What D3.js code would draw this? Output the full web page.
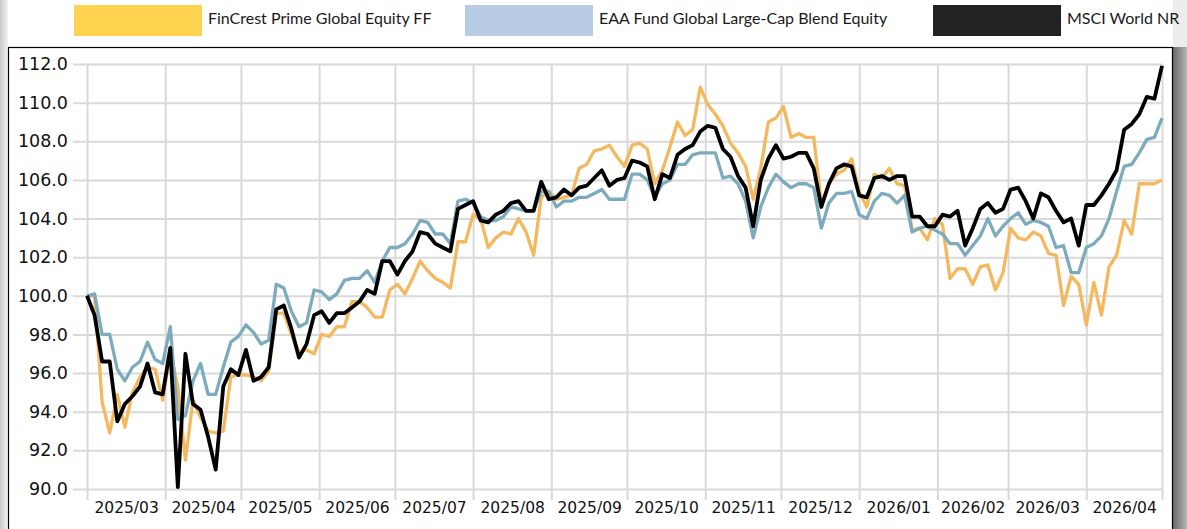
<!DOCTYPE html>
<html>
<head>
<meta charset="utf-8">
<script src="https://cdn.jsdelivr.net/npm/d3@7"></script>
<style>
  html, body { margin: 0; padding: 0; background: #fff; }
  svg { display: block; }
</style>
</head>
<body>
<svg id="chart" width="1187" height="529"></svg>
<script>
// series names and colours (legend swatches are paler than the lines)
const seriesNames = ["FinCrest Prime Global Equity FF", "EAA Fund Global Large-Cap Blend Equity", "MSCI World NR"];
const lineColors = ["#f4b85e", "#7dabbe", "#000000"];
const swatchColors = ["#fed350", "#b8cce4", "#222222"];

// one point every 3 days starting 2025-03-01
const startDate = "2025-03-01";
const stepDays = 3;

const fincrest = [
  100.0, 100.0, 94.5, 92.9, 94.9, 93.2, 95.0, 95.8, 96.3, 96.2,
  94.6, 97.1, 95.3, 91.5, 94.6, 93.7, 93.0, 92.9, 93.0, 95.8,
  95.9, 95.9, 95.8, 95.6, 96.1, 99.1, 99.1, 98.0, 97.1, 97.2,
  97.0, 98.0, 97.9, 98.4, 98.4, 99.7, 99.7, 99.4, 98.9, 98.9,
  100.3, 100.6, 100.1, 100.9, 101.8, 101.3, 100.9, 100.7, 100.4, 102.8,
  102.8, 104.2, 104.0, 102.5, 103.0, 103.3, 103.2, 104.0, 103.3, 102.1,
  105.1, 105.4, 105.0, 105.1, 105.2, 106.6, 106.8, 107.5, 107.6, 107.8,
  107.2, 106.7, 107.8, 107.9, 107.6, 105.8, 106.5, 107.7, 109.0, 108.3,
  108.6, 110.8, 109.9, 109.4, 108.8, 107.9, 107.4, 106.7, 105.0, 106.6,
  109.0, 109.2, 109.8, 108.2, 108.4, 108.2, 108.2, 104.8, 105.8, 106.3,
  106.5, 107.1, 105.4, 104.6, 106.3, 106.1, 106.6, 105.8, 105.7, 103.4,
  103.5, 102.9, 104.0, 103.7, 100.9, 101.4, 101.4, 100.6, 101.5, 101.6,
  100.3, 101.2, 103.5, 103.0, 102.9, 103.3, 103.1, 102.2, 102.1, 99.5,
  101.0, 100.6, 98.5, 100.7, 99.0, 101.5, 102.1, 103.9, 103.2, 105.8,
  105.8, 105.8, 106.0
];

const eaaGlobal = [
  100.0, 100.1, 98.0, 98.0, 96.2, 95.6, 96.3, 96.6, 97.6, 96.7,
  96.5, 98.4, 93.6, 93.8, 95.6, 96.5, 94.9, 94.9, 96.3, 97.6,
  97.9, 98.5, 98.1, 97.5, 97.7, 100.6, 100.4, 99.2, 98.4, 98.6,
  100.3, 100.2, 99.8, 100.1, 100.8, 100.9, 100.9, 101.3, 100.7, 101.8,
  102.5, 102.5, 102.7, 103.2, 103.9, 103.8, 103.2, 103.2, 102.7, 104.9,
  105.0, 104.8, 104.1, 103.9, 103.9, 104.1, 104.6, 104.5, 104.4, 104.4,
  105.4, 105.4, 104.6, 104.9, 104.9, 105.1, 105.1, 105.3, 105.5, 105.0,
  105.0, 105.0, 106.3, 106.3, 106.0, 105.1, 105.8, 106.0, 106.8, 106.8,
  107.3, 107.4, 107.4, 107.4, 106.1, 106.2, 105.8, 104.9, 103.0, 104.6,
  105.6, 106.3, 105.9, 105.6, 105.8, 105.8, 105.6, 103.5, 104.8, 105.3,
  105.3, 105.4, 104.2, 104.0, 104.9, 105.3, 105.2, 104.8, 105.2, 103.3,
  103.5, 103.6, 103.4, 103.2, 102.7, 102.7, 102.1, 102.6, 103.1, 104.0,
  103.1, 103.6, 104.0, 104.3, 103.7, 103.9, 103.8, 103.6, 102.5, 102.6,
  101.2, 101.2, 102.5, 102.7, 103.1, 104.0, 105.4, 106.7, 106.8, 107.4,
  108.1, 108.2, 109.2
];

const msciWorld = [
  100.0, 99.0, 96.6, 96.6, 93.5, 94.4, 94.8, 95.3, 96.5, 95.0,
  94.9, 97.3, 90.1, 97.0, 94.4, 94.1, 92.7, 91.0, 95.3, 96.2,
  95.9, 97.2, 95.6, 95.8, 96.3, 99.3, 99.5, 98.3, 96.8, 97.5,
  99.0, 99.2, 98.6, 99.1, 99.1, 99.4, 99.7, 100.3, 100.1, 101.8,
  101.8, 101.1, 101.8, 102.3, 103.3, 103.2, 102.7, 102.5, 102.3, 104.5,
  104.7, 104.9, 103.9, 103.8, 104.2, 104.4, 104.8, 104.9, 104.4, 104.4,
  105.9, 105.0, 105.1, 105.5, 105.2, 105.6, 105.7, 106.1, 106.5, 105.7,
  106.0, 106.1, 107.0, 106.9, 106.7, 105.0, 106.3, 106.1, 107.3, 107.6,
  107.8, 108.5, 108.8, 108.7, 107.6, 107.2, 106.2, 105.6, 103.6, 106.0,
  107.1, 107.8, 107.1, 107.2, 107.4, 107.4, 106.6, 104.6, 105.8, 106.6,
  106.8, 106.7, 105.2, 105.1, 106.1, 106.2, 106.0, 106.2, 106.2, 104.1,
  104.1, 103.6, 103.6, 104.2, 104.1, 104.4, 102.6, 103.5, 104.5, 104.8,
  104.3, 104.5, 105.5, 105.6, 104.9, 104.0, 105.3, 105.1, 104.4, 103.8,
  104.0, 102.6, 104.7, 104.7, 105.2, 105.8, 106.5, 108.6, 108.9, 109.4,
  110.3, 110.2, 111.9
];

const yTicks = [90, 92, 94, 96, 98, 100, 102, 104, 106, 108, 110, 112];
const axisStart = "2025-03-01";
const axisEnd = "2026-05-01";

const allSeries = [fincrest, eaaGlobal, msciWorld];

const svg = d3.select("#chart");
const W = 1187, H = 529;
const plot = { left: 73, dataLeft: 87, right: 1162, top: 64, bottom: 489, gridBottom: 500 };

const parse = d3.utcParse("%Y-%m-%d");
const t0 = parse(startDate);
const dates = fincrest.map((_, i) => d3.utcDay.offset(t0, i * stepDays));

const x = d3.scaleUtc()
  .domain([parse(axisStart), parse(axisEnd)])
  .range([plot.dataLeft, plot.right]);
const y = d3.scaleLinear()
  .domain([90, 112])
  .range([plot.bottom, plot.top]);

// ---- frame / page decoration
const defs = svg.append("defs");
const lg = defs.append("linearGradient").attr("id", "leftShade");
lg.append("stop").attr("offset", "0%").attr("stop-color", "#c9c9c9");
lg.append("stop").attr("offset", "100%").attr("stop-color", "#f3f3f3");
const rg = defs.append("linearGradient").attr("id", "rightShade");
rg.append("stop").attr("offset", "0%").attr("stop-color", "#6a6a6a");
rg.append("stop").attr("offset", "100%").attr("stop-color", "#b4b4b4");

svg.append("rect").attr("x", 0).attr("y", 0).attr("width", W).attr("height", H).attr("fill", "#ffffff");
svg.append("rect").attr("x", 0).attr("y", 0).attr("width", 8).attr("height", H).attr("fill", "url(#leftShade)");
svg.append("rect").attr("x", 1173).attr("y", 47).attr("width", 14).attr("height", H - 47).attr("fill", "url(#rightShade)");
svg.append("rect").attr("x", 1173).attr("y", 0).attr("width", 14).attr("height", 47).attr("fill", "#ededed");
svg.append("rect")
  .attr("x", 8.5).attr("y", 47.5)
  .attr("width", 1164).attr("height", 500)
  .attr("fill", "#ffffff")
  .attr("stroke", "#000")
  .attr("stroke-width", 1.2);

// ---- legend (swatch, then label)
const legendX = [74, 465, 933];
const legend = svg.append("g").attr("class", "legend");
seriesNames.forEach((name, i) => {
  legend.append("rect")
    .attr("x", legendX[i]).attr("y", 5)
    .attr("width", 128).attr("height", 31)
    .attr("fill", swatchColors[i]);
  legend.append("text")
    .attr("x", legendX[i] + 134).attr("y", 24)
    .attr("font-family", "Lato, 'Open Sans', sans-serif")
    .attr("font-size", 16)
    .attr("fill", "#1a1a1a")
    .text(name);
});

// ---- grid + axes
const yAxis = svg.append("g")
  .attr("transform", `translate(${plot.left},0)`)
  .call(d3.axisLeft(y)
    .tickValues(yTicks)
    .tickFormat(d3.format(".1f"))
    .tickSize(-(plot.right - plot.left))
    .tickPadding(5));
yAxis.select(".domain").remove();
yAxis.selectAll(".tick line").attr("stroke", "#d9d9d9").attr("stroke-width", 2);
yAxis.selectAll(".tick text")
  .attr("font-family", "'DejaVu Sans', Verdana, sans-serif")
  .attr("font-size", 17.5)
  .attr("fill", "#111");

const monthStarts = d3.utcMonth.range(parse(axisStart), d3.utcDay.offset(parse(axisEnd), 1));
const xGrid = svg.append("g")
  .attr("transform", `translate(0,${plot.gridBottom})`)
  .call(d3.axisBottom(x)
    .tickValues(monthStarts)
    .tickFormat("")
    .tickSize(-(plot.gridBottom - plot.top)));
xGrid.select(".domain").remove();
xGrid.selectAll(".tick line").attr("stroke", "#d9d9d9").attr("stroke-width", 2);

// month labels centred inside each month
const monthMids = monthStarts.slice(0, -1).map(m =>
  new Date((m.getTime() + d3.utcMonth.offset(m, 1).getTime()) / 2));
const xLabels = svg.append("g")
  .attr("transform", `translate(0,${plot.gridBottom})`)
  .call(d3.axisBottom(x)
    .tickValues(monthMids)
    .tickFormat(d3.utcFormat("%Y/%m"))
    .tickSize(0)
    .tickPadding(2));
xLabels.select(".domain").remove();
xLabels.selectAll(".tick text")
  .attr("font-family", "'DejaVu Sans', Verdana, sans-serif")
  .attr("font-size", 15.5)
  .attr("fill", "#111");

// ---- lines
const line = d3.line()
  .x((d, i) => x(dates[i]))
  .y(d => y(d));

svg.append("g")
  .selectAll("path")
  .data(allSeries)
  .join("path")
  .attr("d", line)
  .attr("fill", "none")
  .attr("stroke", (d, i) => lineColors[i])
  .attr("stroke-width", (d, i) => (i === 2 ? 3.8 : 3.3))
  .attr("stroke-linejoin", "round");
</script>
</body>
</html>
